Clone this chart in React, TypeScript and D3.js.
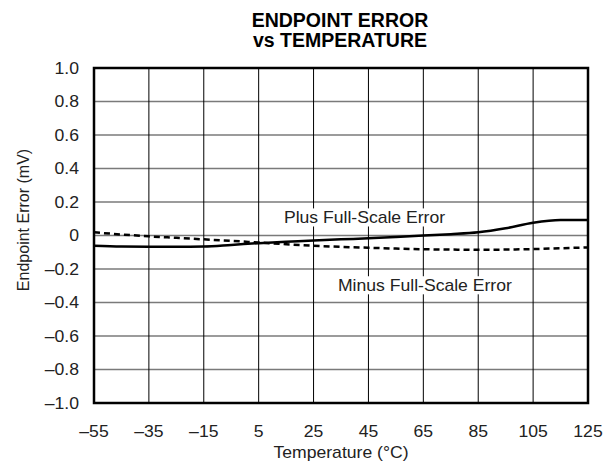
import { useRef, useEffect } from "react";
import * as d3 from "d3";

// temperature points (°C)
const temps = [-55, -45, -35, -25, -15, -5, 5, 15, 25, 35, 45, 55, 65, 75, 85, 95, 105, 115, 125];
// Plus Full-Scale Error (mV) - solid
const plusErr = [-0.061, -0.066, -0.067, -0.067, -0.065, -0.056, -0.046, -0.038, -0.030, -0.023, -0.017, -0.009, 0.0, 0.008, 0.019, 0.043, 0.076, 0.092, 0.092];
// Minus Full-Scale Error (mV) - dashed
const minusErr = [0.019, 0.006, -0.005, -0.014, -0.023, -0.032, -0.042, -0.052, -0.061, -0.068, -0.073, -0.078, -0.082, -0.084, -0.085, -0.084, -0.081, -0.076, -0.071];

const xTicks = [-55, -35, -15, 5, 25, 45, 65, 85, 105, 125];
const yTicks = [1.0, 0.8, 0.6, 0.4, 0.2, 0, -0.2, -0.4, -0.6, -0.8, -1.0];

const fmtY = (v: number) => (v === 0 ? "0" : v.toFixed(1).replace("-", "\u2013"));
const fmtX = (v: number) => String(v).replace("-", "\u2013");

const App = () => {
  const svgRef = useRef<SVGSVGElement | null>(null);

  useEffect(() => {
    const width = 609;
    const height = 464;
    const margin = { top: 68, right: 21, bottom: 61, left: 94 };
    const font = "'Liberation Sans', Arial, Helvetica, sans-serif";
    const stretch = 1.1; // the original type is a bit wider than Arial

    const svg = d3.select(svgRef.current)
      .attr("width", width)
      .attr("height", height)
      .style("background", "#fff");
    svg.selectAll("*").remove();

    const x = d3.scaleLinear()
      .domain([-55, 125])
      .range([margin.left, width - margin.right]);
    const y = d3.scaleLinear()
      .domain([-1, 1])
      .range([height - margin.bottom, margin.top]);

    const label = (g: any, tx: number, ty: number, s: string, anchor = "middle", size = 16) =>
      g.append("text")
        .attr("transform", `translate(${tx},${ty}) scale(${stretch},1)`)
        .attr("dy", "0.35em")
        .attr("text-anchor", anchor)
        .attr("font-family", font)
        .attr("font-size", size)
        .attr("fill", "#222")
        .text(s);

    // horizontal grid (gray)
    svg.append("g")
      .selectAll("line")
      .data(yTicks)
      .join("line")
      .attr("x1", x(-55)).attr("x2", x(125))
      .attr("y1", d => y(d)).attr("y2", d => y(d))
      .attr("stroke", "#7a7a7a")
      .attr("stroke-width", 1.6);

    // vertical grid (black)
    svg.append("g")
      .selectAll("line")
      .data(xTicks)
      .join("line")
      .attr("x1", d => x(d)).attr("x2", d => x(d))
      .attr("y1", y(1)).attr("y2", y(-1))
      .attr("stroke", "#000")
      .attr("stroke-width", 1);

    // curve labels, on white so the grid stops behind them
    const labels = [
      { text: "Plus Full-Scale Error", t: 14.2, v: 0.11 },
      { text: "Minus Full-Scale Error", t: 33.9, v: -0.295 },
    ];
    const lg = svg.append("g");
    labels.forEach(l => {
      const txt = label(lg, x(l.t), y(l.v), l.text, "start");
      const bb = (txt.node() as SVGTextElement).getBBox();
      lg.insert("rect", "text")
        .attr("transform", `translate(${x(l.t)},${y(l.v)}) scale(${stretch},1)`)
        .attr("x", bb.x - 2).attr("y", bb.y)
        .attr("width", bb.width + 4).attr("height", bb.height)
        .attr("fill", "#fff");
    });

    const line = d3.line<number>()
      .x((_, i) => x(temps[i]))
      .y(d => y(d))
      .curve(d3.curveMonotoneX);

    svg.append("path")
      .datum(minusErr)
      .attr("d", line)
      .attr("fill", "none")
      .attr("stroke", "#000")
      .attr("stroke-width", 2.5)
      .attr("stroke-dasharray", "6,4");

    svg.append("path")
      .datum(plusErr)
      .attr("d", line)
      .attr("fill", "none")
      .attr("stroke", "#000")
      .attr("stroke-width", 2.5);

    // frame
    svg.append("rect")
      .attr("x", x(-55)).attr("y", y(1))
      .attr("width", x(125) - x(-55))
      .attr("height", y(-1) - y(1))
      .attr("fill", "none")
      .attr("stroke", "#000")
      .attr("stroke-width", 2.5);

    // y tick labels
    const yg = svg.append("g");
    yTicks.forEach(d => label(yg, 79, y(d), fmtY(d), "end"));

    // x tick labels
    const xg = svg.append("g");
    xTicks.forEach(d => label(xg, x(d), 431, fmtX(d)));

    // axis titles
    label(svg, (x(-55) + x(125)) / 2, 452, "Temperature (°C)");

    svg.append("text")
      .attr("transform", `translate(23,220) rotate(-90)`)
      .attr("dy", "0.35em")
      .attr("text-anchor", "middle")
      .attr("font-family", font)
      .attr("font-size", 16)
      .attr("fill", "#222")
      .text("Endpoint Error (mV)");

    // chart title
    const title = svg.append("text")
      .attr("text-anchor", "middle")
      .attr("font-family", font)
      .attr("font-size", 19.5)
      .attr("font-weight", "bold")
      .attr("fill", "#000");
    title.append("tspan").attr("x", 340).attr("y", 27).text("ENDPOINT ERROR");
    title.append("tspan").attr("x", 340).attr("y", 47).text("vs TEMPERATURE");
  }, []);

  return (
    <svg ref={svgRef} style={{ position: "absolute", left: 0, top: 0, display: "block" }} />
  );
};

export default App;
